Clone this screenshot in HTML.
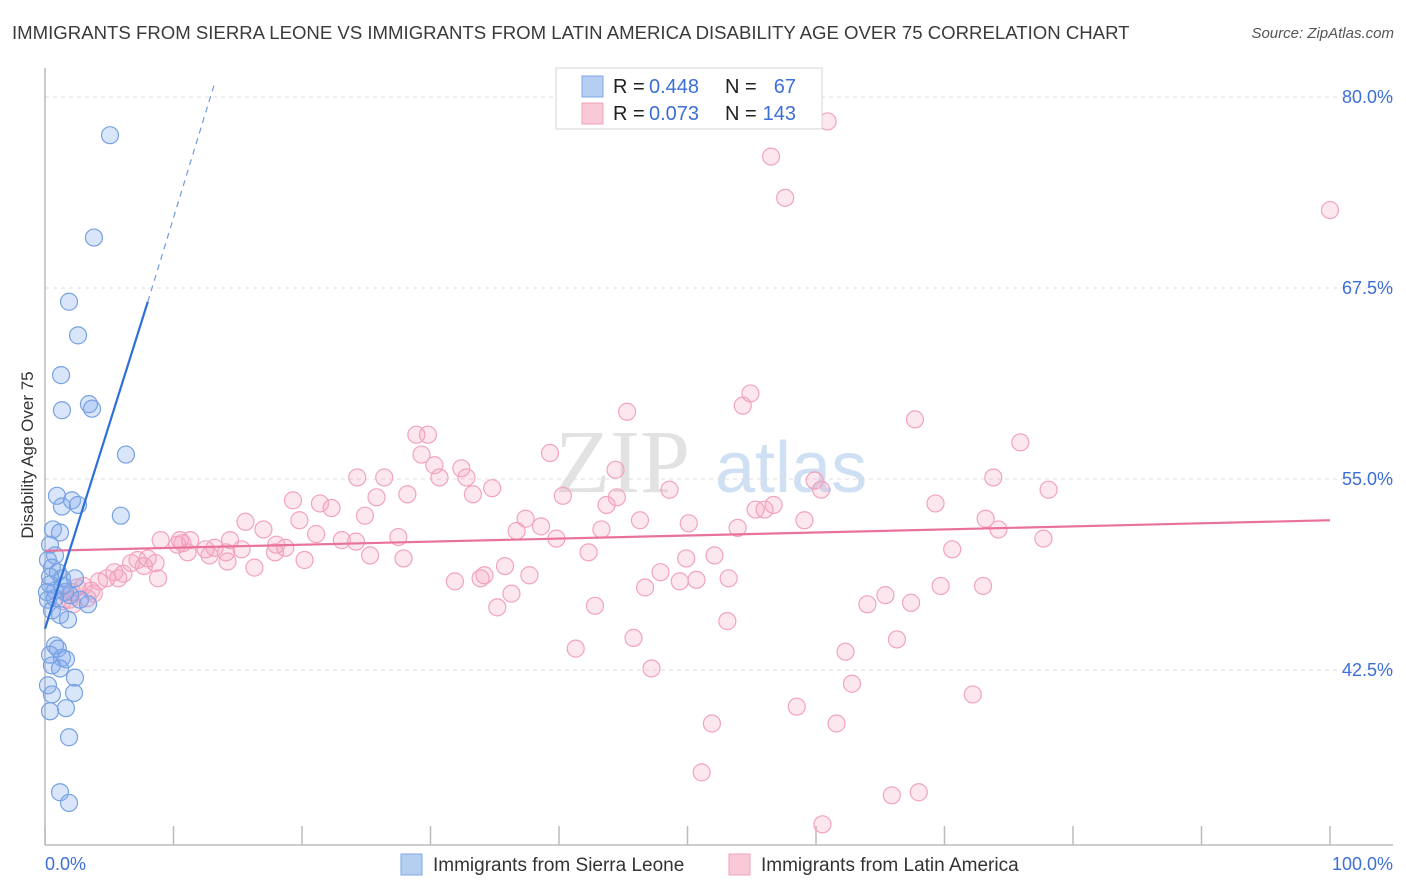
<!DOCTYPE html>
<html><head><meta charset="utf-8"><style>
body{margin:0;background:#fff;font-family:"Liberation Sans",sans-serif;}
#wrap{position:relative;width:1406px;height:892px;overflow:hidden;}
.t{position:absolute;white-space:nowrap;}
</style></head><body>
<div id="wrap">
<div class="t" style="left:12px;top:22px;font-size:18.6px;color:#3a3a3a;">IMMIGRANTS FROM SIERRA LEONE VS IMMIGRANTS FROM LATIN AMERICA DISABILITY AGE OVER 75 CORRELATION CHART</div>
<div class="t" style="right:12px;top:25px;font-size:15px;color:#555;font-style:italic;">Source: ZipAtlas.com</div>
<svg id="svg" width="1406" height="892" style="position:absolute;left:0;top:0"></svg>
</div>
<script>
const yTicks=[80,67.5,55,42.5];
const xTickVals=[0,10,20,30,40,50,60,70,80,90,100];
const blueX=[5.06,3.81,1.87,2.57,1.25,1.32,3.42,3.66,6.3,0.93,1.32,2.1,2.57,5.9,0.62,1.17,0.39,0.78,0.23,0.54,1.0,1.32,2.33,0.39,0.78,1.56,1.95,2.72,3.35,0.23,0.54,1.17,1.79,0.78,1.0,0.39,1.32,1.63,0.54,1.17,2.33,0.23,0.54,2.26,1.63,0.39,1.87,1.17,1.87,0.39,0.15,0.78,1.4];
const blueY=[77.5,70.8,66.6,64.4,61.8,59.5,59.9,59.6,56.6,53.9,53.2,53.6,53.3,52.6,51.7,51.5,50.7,50.0,49.7,49.2,48.9,48.5,48.5,48.1,47.7,47.6,47.4,47.1,46.8,47.1,46.4,46.1,45.8,44.1,43.9,43.5,43.3,43.2,42.8,42.6,42.0,41.5,40.9,41.0,40.0,39.8,38.1,34.5,33.8,48.6,47.6,47.2,48.0];
const pinkX=[60.9,56.5,57.6,100,54.9,54.3,45.3,67.7,75.9,28.9,29.8,39.3,29.3,30.3,32.4,44.4,26.4,24.3,30.7,32.8,73.8,34.8,33.3,48.6,78.1,60.4,59.9,40.3,44.5,19.3,21.4,25.8,28.2,69.3,43.7,56.7,56.0,55.3,22.3,24.9,37.4,15.6,19.8,46.3,50.1,59.1,73.2,38.6,53.9,21.1,17.0,36.7,43.3,74.2,11.3,9.0,10.5,10.3,14.4,23.1,27.5,24.2,77.7,39.8,10.7,18.0,18.7,13.2,12.5,15.3,17.9,11.1,14.1,12.8,70.6,25.3,27.9,42.3,52.1,49.9,7.2,8.0,8.6,6.7,7.7,14.2,20.2,16.3,5.4,6.1,5.7,4.8,8.8,4.2,3.6,3.0,2.5,2.1,3.3,3.8,1.9,1.4,2.2,35.8,47.9,34.2,37.7,31.9,33.9,46.7,49.4,50.7,53.2,69.7,73.0,65.4,36.3,64.0,67.4,35.2,42.8,53.1,45.8,66.3,41.3,62.3,47.2,62.8,72.2,58.5,51.9,61.6,51.1,65.9,68.0,60.5];
const pinkY=[78.4,76.1,73.4,72.6,60.6,59.8,59.4,58.9,57.4,57.9,57.9,56.7,56.6,55.9,55.7,55.6,55.1,55.1,55.1,55.1,55.1,54.4,54.0,54.3,54.3,54.3,54.9,53.9,53.8,53.6,53.4,53.8,54.0,53.4,53.3,53.3,53.0,53.0,53.1,52.6,52.4,52.2,52.3,52.3,52.1,52.3,52.4,51.9,51.8,51.4,51.7,51.6,51.7,51.7,51.0,51.0,51.0,50.7,51.0,51.0,51.2,50.9,51.1,51.1,50.8,50.7,50.5,50.5,50.4,50.4,50.2,50.2,50.2,50.0,50.4,50.0,49.8,50.2,50.0,49.8,49.7,49.8,49.5,49.5,49.3,49.6,49.7,49.2,48.9,48.8,48.5,48.5,48.5,48.3,47.7,48.0,47.9,47.6,47.2,47.5,47.1,47.0,46.8,49.3,48.9,48.7,48.7,48.3,48.5,47.9,48.3,48.4,48.5,48.0,48.0,47.4,47.5,46.8,46.9,46.6,46.7,45.7,44.6,44.5,43.9,43.7,42.6,41.6,40.9,40.1,39.0,39.0,35.8,34.3,34.5,32.4];
const blueTrend=[[0,45.2],[8.0,66.6]];
const blueDash=[[8.0,66.6],[13.2,80.9]];
const pinkTrend=[[0,50.3],[100,52.3]];

const NS='http://www.w3.org/2000/svg';
const svg=document.getElementById('svg');
const X=v=>45+v*12.85;
const Y=v=>97+(80-v)*15.28;
function mk(tag,attrs,parent){const e=document.createElementNS(NS,tag);for(const k in attrs)e.setAttribute(k,attrs[k]);(parent||svg).appendChild(e);return e;}

let wm=mk('text',{x:555,y:492,'font-size':90,'font-family':'Liberation Serif, serif',fill:'#e2e2e2'});


wm.textContent='ZIP';
let wm2=mk('text',{x:715,y:492,'font-size':72,'font-family':'Liberation Sans, sans-serif',fill:'#cfe0f4'});


wm2.textContent='atlas';

yTicks.forEach(v=>{
  let g=mk('line',{x1:45,x2:1393,y1:Y(v),y2:Y(v),stroke:'#dcdcdc','stroke-dasharray':'4,4'});
  
  
  let t=mk('text',{x:1393,y:Y(v)+6,'text-anchor':'end','font-size':18,fill:'#3c6fd6','font-family':'Liberation Sans, sans-serif'});
  
  
  t.textContent=v.toFixed(1)+'%';
});
let ya=mk('line',{x1:45,x2:45,y1:68,y2:845,stroke:'#bbb','stroke-width':1.5});


let xa=mk('line',{x1:45,x2:1393,y1:845,y2:845,stroke:'#bbb','stroke-width':1.5});


xTickVals.forEach(v=>{
  let tk=mk('line',{x1:X(v),x2:X(v),y1:826,y2:845,stroke:'#bbb','stroke-width':1.5});
  
  
});
let xl0=mk('text',{x:45,y:870,'font-size':18,fill:'#3c6fd6'});


xl0.textContent='0.0%';
let xl1=mk('text',{x:1393,y:870,'text-anchor':'end','font-size':18,fill:'#3c6fd6'});


xl1.textContent='100.0%';
let yt=mk('text',{x:0,y:0,'font-size':17,fill:'#333',transform:'translate(33,455) rotate(-90)','text-anchor':'middle'});


yt.textContent='Disability Age Over 75';

pinkX.forEach((v,i)=>{
  let c=mk('circle',{cx:X(v),cy:Y(pinkY[i]),r:8.5,fill:'rgba(244,160,190,0.25)',stroke:'#f2a3bd','stroke-width':1.2});
  
  
});
blueX.forEach((v,i)=>{
  let c=mk('circle',{cx:X(v),cy:Y(blueY[i]),r:8.5,fill:'rgba(130,170,235,0.3)',stroke:'#76a1e3','stroke-width':1.2});
  
  
});
let pt=mk('line',{x1:X(pinkTrend[0][0]),y1:Y(pinkTrend[0][1]),x2:X(pinkTrend[1][0]),y2:Y(pinkTrend[1][1]),stroke:'#e9729b','stroke-width':2.2});


let bt=mk('line',{x1:X(blueTrend[0][0]),y1:Y(blueTrend[0][1]),x2:X(blueTrend[1][0]),y2:Y(blueTrend[1][1]),stroke:'#2f6fd8','stroke-width':2.2});


let bd=mk('line',{x1:X(blueDash[0][0]),y1:Y(blueDash[0][1]),x2:X(blueDash[1][0]),y2:Y(blueDash[1][1]),stroke:'#6f9be0','stroke-width':1.2,'stroke-dasharray':'6,5'});



let lb=mk('rect',{x:556,y:68,width:266,height:61,fill:'#fff',stroke:'#d5d5d5'});


[[0,'#b5cff3','#7fa7e6','0.448','67'],[1,'#f9c9d7','#f0a3bb','0.073','143']].forEach(r=>{
  let y=85+r[0]*27;
  let s=mk('rect',{x:582,y:y-9,width:21,height:21,fill:r[1],stroke:r[2]});
  
  
  let t1=mk('text',{x:613,y:y+8,'font-size':20,fill:'#222'});
  
  
  t1.textContent='R =';
  let t2=mk('text',{x:649,y:y+8,'font-size':20,fill:'#3c6fd6'});
  
  
  t2.textContent=r[3];
  let t3=mk('text',{x:725,y:y+8,'font-size':20,fill:'#222'});
  
  
  t3.textContent='N =';
  let t4=mk('text',{x:796,y:y+8,'font-size':20,fill:'#3c6fd6','text-anchor':'end'});
  
  
  t4.textContent=r[4];
});
[[401,'#b5cff3','#7fa7e6','Immigrants from Sierra Leone'],[729,'#f9c9d7','#f0a3bb','Immigrants from Latin America']].forEach(r=>{
  let s=mk('rect',{x:r[0],y:854,width:21,height:21,fill:r[1],stroke:r[2]});
  
  
  let t=mk('text',{x:r[0]+32,y:871,'font-size':19,fill:'#333'});
  
  
  t.textContent=r[3];
});
</script>
</body></html>
